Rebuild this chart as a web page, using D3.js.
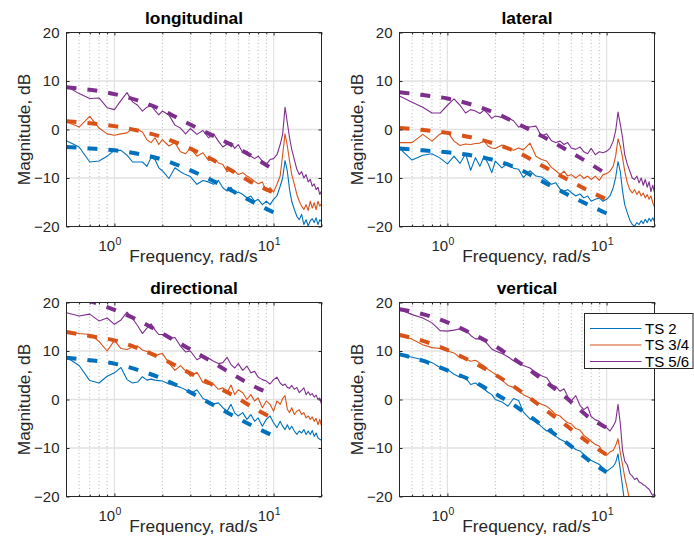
<!DOCTYPE html>
<html>
<head>
<meta charset="utf-8">
<script src="https://cdn.jsdelivr.net/npm/d3@7"></script>
<style>
  html, body { margin: 0; padding: 0; background: #fff; }
  svg { display: block; font-family: "Liberation Sans", Arial, Helvetica, sans-serif; }
</style>
</head>
<body>
<svg id="chart" width="694" height="538"></svg>
<script>
// Frequency grid of the measured responses, rad/s
const freq = [0.5,0.6,0.7,0.8,0.9,1.0,1.1,1.2,1.3,1.4,1.5,1.6,1.7,1.8,1.9,2.0,
  2.2,2.4,2.6,2.8,3.0,3.3,3.6,3.9,4.2,4.5,4.8,5.1,5.4,5.7,6.0,6.4,6.8,7.2,7.6,8.0,8.5,9.0,9.5,10.0,
  10.5,11.0,11.4,11.8,12.2,12.6,13.0,13.5,14.0,14.5,15.0,15.5,16.0,16.5,17.0,17.5,18.0,18.5,19.0,19.5,20.0];

// Frequency points of the fitted model curves, rad/s
const modelFreq = [0.5,0.7,1,1.4,2,2.8,4,5.6,8,10];

const seriesNames = ["TS 2", "TS 3/4", "TS 5/6"];
const seriesColors = ["#0072BD", "#D95319", "#7E2F8E"];
const panelTitles = ["longitudinal", "lateral", "directional", "vertical"];
const yTicks = [-20, -10, 0, 10, 20];
const xMajor = [1, 10];
const xMinor = [0.6,0.7,0.8,0.9,2,3,4,5,6,7,8,9,20];

// longitudinal, measured magnitude (dB)
const lonTS2 = [-2.3,-3.6,-6.7,-6.5,-5.5,-4.3,-4.3,-5.3,-6.7,-6.7,-6.7,-7.6,-5.8,-6.2,-7.9,-8.5,
  -10.1,-7.9,-8.7,-9.3,-9.7,-11.3,-10.5,-10.8,-11.3,-10.5,-12.0,-12.7,-11.9,-13.3,-12.9,-13.4,-14.1,-13.7,-14.8,-14.4,-15.5,-14.8,-15.5,-14.4,
  -13.7,-11.7,-10.0,-6.4,-8.6,-12.4,-14.8,-16.5,-17.9,-18.6,-17.5,-19.6,-18.6,-19.9,-18.8,-18.4,-19.2,-18.2,-19.6,-18.6,-19.0];
const lonTS34 = [1.6,0.5,2.7,0.3,-0.9,-1.2,-0.9,-0.7,0.2,0.0,-0.5,-2.1,-2.7,-1.7,-3.1,-2.1,
  -3.4,-2.7,-4.6,-5.0,-3.9,-5.5,-4.8,-6.4,-6.0,-6.9,-7.2,-8.7,-8.2,-8.6,-9.3,-8.9,-9.6,-10.1,-10.7,-11.2,-10.8,-12.7,-12.0,-12.9,
  -11.3,-9.6,-5.2,-0.9,-3.4,-6.5,-9.3,-11.3,-13.4,-14.8,-15.8,-16.5,-15.5,-16.7,-14.8,-16.2,-15.1,-16.5,-14.8,-15.8,-15.3];
const lonTS56 = [8.9,7.4,6.4,6.5,4.5,4.1,6.0,7.6,5.7,5.0,3.8,4.6,4.9,3.9,3.0,3.8,
  3.0,0.9,0.3,-0.9,0.2,-1.0,-0.2,-1.7,-0.9,-2.4,-3.6,-3.0,-2.7,-3.9,-3.1,-4.8,-4.5,-5.5,-6.0,-5.5,-6.5,-7.2,-6.2,-6.0,
  -5.2,-3.1,-1.0,4.6,1.4,-1.7,-4.1,-6.2,-8.2,-9.3,-8.7,-10.0,-9.3,-10.8,-10.3,-11.7,-11.2,-12.4,-11.9,-13.4,-12.7];

// lateral, measured magnitude (dB)
const latTS2 = [-3.9,-6.3,-5.3,-5.0,-5.9,-7.1,-5.5,-7.0,-5.0,-8.4,-5.8,-7.6,-5.5,-7.0,-8.9,-6.5,
  -7.9,-6.9,-8.0,-8.2,-9.9,-8.5,-9.6,-9.8,-10.5,-11.3,-11.0,-12.3,-12.7,-12.4,-13.0,-13.7,-13.3,-14.1,-13.7,-14.8,-14.4,-14.1,-14.8,-14.4,
  -13.7,-12.0,-9.9,-6.6,-8.7,-12.7,-15.5,-17.2,-18.7,-19.6,-19.9,-19.2,-19.6,-18.8,-19.4,-18.5,-19.2,-18.3,-18.9,-18.2,-19.0];
const latTS34 = [-2.7,-2.7,-1.0,-2.4,-0.9,-0.5,-2.4,-3.3,-3.0,-3.1,-2.9,-2.8,-2.4,-3.4,-3.8,-3.9,
  -3.2,-3.8,-4.3,-3.8,-4.2,-2.8,-5.5,-6.2,-6.5,-7.8,-8.5,-9.3,-8.6,-9.6,-9.3,-10.0,-9.3,-10.1,-9.6,-10.3,-9.6,-10.5,-9.3,-9.1,
  -8.6,-7.6,-5.5,-1.9,-3.5,-5.8,-8.6,-11.0,-12.4,-13.1,-12.4,-13.4,-12.7,-13.7,-13.1,-14.1,-13.4,-14.4,-13.7,-15.1,-16.0];
const latTS56 = [6.9,5.6,4.6,3.4,3.4,5.0,6.3,5.0,3.4,4.1,3.8,3.3,4.0,3.2,2.3,2.8,
  2.5,2.4,1.8,0.5,0.7,0.5,0.7,-1.4,-0.9,-2.3,-2.7,-2.4,-3.1,-2.7,-3.8,-4.1,-3.6,-4.6,-5.0,-3.9,-5.2,-4.6,-4.8,-4.5,
  -3.9,-2.4,-0.3,3.6,1.0,-1.7,-5.2,-7.2,-8.6,-10.0,-10.3,-9.6,-11.0,-10.0,-11.5,-10.3,-11.9,-10.8,-12.8,-11.5,-13.0];

// directional, measured magnitude (dB)
const dirTS2 = [8.7,7.0,3.9,3.4,4.8,5.5,6.6,4.1,3.4,3.6,4.7,4.0,4.2,4.0,3.9,3.8,
  3.2,2.9,2.5,2.0,1.2,2.0,0.2,-0.3,-0.9,-0.7,-1.7,-2.4,-1.0,-2.8,-3.4,-2.7,-4.1,-3.1,-4.5,-3.8,-5.5,-4.1,-3.4,-4.8,
  -5.8,-4.5,-5.5,-6.2,-5.2,-6.2,-5.5,-6.5,-7.2,-6.5,-6.9,-6.2,-7.2,-6.5,-7.2,-6.4,-7.6,-6.9,-7.9,-8.2,-8.4];
const dirTS34 = [14.0,13.6,13.4,12.0,10.0,12.2,10.5,10.3,10.8,11.0,10.2,9.9,9.5,8.9,9.3,9.5,
  7.5,6.0,7.0,5.9,4.8,5.6,3.5,3.1,3.1,2.1,2.4,1.4,3.0,1.0,2.0,1.4,0.0,1.0,-0.3,0.3,-1.7,-0.3,-1.0,-2.4,
  -0.3,-1.0,0.2,0.8,-2.0,-2.7,-1.7,-3.1,-2.4,-2.1,-3.1,-2.7,-3.8,-3.4,-4.1,-3.6,-4.5,-3.9,-5.2,-4.1,-5.5];
const dirTS56 = [17.9,17.2,17.6,16.2,16.8,15.5,16.4,18.0,16.7,15.2,13.6,14.7,15.6,14.3,13.4,13.4,
  12.5,12.8,11.0,9.8,10.0,8.2,8.9,8.5,7.9,7.4,7.6,8.7,7.2,6.5,7.4,6.0,6.9,5.5,5.8,4.6,4.1,3.8,3.2,4.1,
  4.6,3.4,2.9,3.2,2.5,2.3,2.9,2.1,2.5,1.4,1.9,2.4,1.0,1.6,0.9,1.2,0.5,0.9,0.0,0.3,-1.0];

// vertical, measured magnitude (dB); null where the response runs below the plotted range
const verTS2 = [9.3,8.7,8.2,7.6,6.6,6.2,5.2,4.6,4.5,3.1,3.4,2.7,2.1,1.5,1.0,0.0,
  -0.5,-1.4,0.2,-0.2,-2.6,-4.0,-4.5,-5.6,-6.5,-6.0,-7.6,-8.2,-8.6,-9.0,-9.6,-10.3,-10.6,-11.3,-12.0,-12.6,-13.0,-13.4,-14.1,-14.8,
  -14.3,-13.8,-13.0,-11.2,-14.5,-18.0,-21.5,null,null,null,null,null,null,null,null,null,null,null,null,null,null];
const verTS34 = [13.5,12.4,11.3,10.7,10.5,10.0,9.6,8.6,8.4,7.9,8.1,7.5,6.9,6.2,5.7,5.2,
  4.0,2.9,2.5,1.8,1.0,0.3,-0.5,-1.0,-1.4,-2.2,-3.1,-3.4,-4.2,-4.8,-5.0,-6.0,-6.3,-7.4,-8.0,-8.6,-9.3,-9.6,-11.0,-11.5,
  -10.8,-10.5,-9.5,-8.1,-11.0,-13.5,-16.0,-18.5,-21.0,null,null,null,null,null,null,null,null,null,null,null,null];
const verTS56 = [18.6,17.5,16.8,15.8,14.2,14.1,14.3,14.6,14.3,13.2,12.5,12.5,12.2,11.3,10.4,10.0,
  9.5,8.8,8.0,7.4,7.0,6.5,5.6,4.9,4.5,3.1,2.7,1.7,2.2,0.6,-0.3,0.8,-1.2,-2.1,-1.5,-3.5,-4.2,-4.5,-5.2,-5.8,
  -6.5,-5.5,-4.5,-1.0,-5.0,-10.5,-12.7,-13.5,-15.3,-15.8,-16.5,-16.2,-17.0,-17.2,-17.6,-17.8,-18.2,-18.5,-19.2,-19.8,-19.4];

// fitted models (dB) at modelFreq
const lonModel2  = [-3.6,-3.9,-4.3,-5.0,-6.2,-8.0,-10.3,-12.8,-15.5,-17.1];
const lonModel34 = [1.7,1.3,0.7,-0.2,-1.6,-3.5,-6.0,-8.7,-11.6,-13.0];
const lonModel56 = [8.7,8.2,7.3,6.0,4.0,1.5,-1.0,-3.4,-6.3,-8.3];
const latModel2  = [-3.9,-4.3,-4.7,-5.3,-6.4,-8.1,-10.8,-13.3,-15.8,-17.3];
const latModel34 = [0.3,-0.1,-0.7,-1.6,-3.0,-4.8,-7.6,-10.2,-12.9,-14.4];
const latModel56 = [7.7,7.1,6.4,5.2,3.4,1.1,-1.5,-4.2,-7.2,-9.2];
const dirModel2  = [8.6,8.1,7.4,6.1,4.3,2.0,-0.8,-3.4,-6.0,-7.5];
const dirModel34 = [13.9,13.1,12.2,10.6,8.4,5.9,3.3,0.8,-2.3,-3.9];
const dirModel56 = [21.7,20.3,18.5,16.4,13.6,10.9,8.0,5.1,2.3,1.0];
const verModel2  = [9.3,8.0,6.0,4.0,1.2,-1.8,-5.5,-8.9,-12.9,-15.0];
const verModel34 = [13.3,12.1,10.2,7.9,5.1,2.0,-1.8,-5.4,-9.3,-11.4];
const verModel56 = [18.6,17.6,15.9,13.7,11.0,7.7,4.0,0.3,-4.0,-5.8];

const measured = [
  [lonTS2, lonTS34, lonTS56],
  [latTS2, latTS34, latTS56],
  [dirTS2, dirTS34, dirTS56],
  [verTS2, verTS34, verTS56]
];
const models = [
  [lonModel2, lonModel34, lonModel56],
  [latModel2, latModel34, latModel56],
  [dirModel2, dirModel34, dirModel56],
  [verModel2, verModel34, verModel56]
];

// ---- layout ----
const W = 255, H = 194;
const origins = [[66.5, 32.5], [399.5, 32.5], [66.5, 302.5], [399.5, 302.5]];
const axisColor = "#262626";
const tickFont = 15, labelFont = 17.3;

const svg = d3.select("#chart");
const x = d3.scaleLog().domain([0.5, 20]).range([0, W]);
const y = d3.scaleLinear().domain([-20, 20]).range([H, 0]);

const lineMeasured = d3.line()
  .defined(d => d[1] !== null)
  .x(d => x(d[0])).y(d => y(d[1]));
const lineModel = d3.line()
  .x(d => x(d[0])).y(d => y(d[1]))
  .curve(d3.curveMonotoneX);

panelTitles.forEach((title, p) => {
  const [ox, oy] = origins[p];
  const g = svg.append("g").attr("transform", `translate(${ox},${oy})`);

  g.append("rect").attr("width", W).attr("height", H).attr("fill", "#fff");

  const clipId = "clip" + p;
  g.append("clipPath").attr("id", clipId)
    .append("rect").attr("width", W).attr("height", H);

  // grid
  const grid = g.append("g");
  grid.selectAll(".minor").data(xMinor.filter(v => v < 20)).join("line")
    .attr("x1", d => x(d)).attr("x2", d => x(d))
    .attr("y1", 0).attr("y2", H)
    .attr("stroke", "#b8b8b8").attr("stroke-width", 1)
    .attr("stroke-dasharray", "1,2.5");
  grid.selectAll(".hmaj").data(yTicks.filter(v => v > -20 && v < 20)).join("line")
    .attr("x1", 0).attr("x2", W)
    .attr("y1", d => y(d)).attr("y2", d => y(d))
    .attr("stroke", "#e2e2e2").attr("stroke-width", 1.3);
  grid.selectAll(".vmaj").data(xMajor).join("line")
    .attr("x1", d => x(d)).attr("x2", d => x(d))
    .attr("y1", 0).attr("y2", H)
    .attr("stroke", "#e2e2e2").attr("stroke-width", 1.3);

  // data
  const plot = g.append("g").attr("clip-path", `url(#${clipId})`);
  measured[p].forEach((vals, s) => {
    plot.append("path")
      .datum(freq.map((f, i) => [f, vals[i]]))
      .attr("d", lineMeasured)
      .attr("fill", "none")
      .attr("stroke", seriesColors[s])
      .attr("stroke-width", 1.1)
      .attr("stroke-linejoin", "round");
  });
  models[p].forEach((vals, s) => {
    plot.append("path")
      .datum(modelFreq.map((f, i) => [f, vals[i]]))
      .attr("d", lineModel)
      .attr("fill", "none")
      .attr("stroke", seriesColors[s])
      .attr("stroke-width", 4)
      .attr("stroke-dasharray", "10,11");
  });

  // axes: ticks pointing inward on all four sides
  const styleAxis = sel => {
    sel.select(".domain").remove();
    sel.selectAll(".tick line").attr("stroke", axisColor);
    sel.selectAll("text").attr("fill", axisColor).attr("font-size", tickFont)
      .attr("font-family", "Liberation Sans, Arial, sans-serif");
  };
  g.append("g").call(d3.axisLeft(y).tickValues(yTicks).tickSize(-3).tickPadding(7))
    .call(styleAxis);
  g.append("g").attr("transform", `translate(${W},0)`)
    .call(d3.axisRight(y).tickValues(yTicks).tickSize(-3).tickFormat(""))
    .call(styleAxis);
  g.append("g").attr("transform", `translate(0,${H})`)
    .call(d3.axisBottom(x).tickValues(xMajor).tickSize(-3).tickFormat(""))
    .call(styleAxis);
  g.append("g").attr("transform", `translate(0,${H})`)
    .call(d3.axisBottom(x).tickValues(xMinor).tickSize(-2).tickFormat(""))
    .call(styleAxis);
  g.append("g")
    .call(d3.axisTop(x).tickValues(xMajor).tickSize(-3).tickFormat(""))
    .call(styleAxis);
  g.append("g")
    .call(d3.axisTop(x).tickValues(xMinor).tickSize(-2).tickFormat(""))
    .call(styleAxis);

  // power-of-ten tick labels
  xMajor.forEach(v => {
    const tx = x(v);
    g.append("text").attr("x", tx + 0.8).attr("y", H + 24.8)
      .attr("text-anchor", "end").attr("font-size", tickFont).attr("fill", axisColor)
      .text("10");
    g.append("text").attr("x", tx + 1.2).attr("y", H + 18.2)
      .attr("text-anchor", "start").attr("font-size", 10.5).attr("fill", axisColor)
      .text(String(Math.round(Math.log10(v))));
  });

  // box
  g.append("rect").attr("width", W).attr("height", H)
    .attr("fill", "none").attr("stroke", axisColor).attr("stroke-width", 1);

  // title and labels
  g.append("text").attr("x", W / 2).attr("y", -8.5)
    .attr("text-anchor", "middle").attr("font-weight", "bold")
    .attr("font-size", labelFont).attr("fill", "#000").text(title);
  g.append("text").attr("x", W / 2 - 0.6).attr("y", H + 35.5)
    .attr("text-anchor", "middle").attr("font-size", labelFont).attr("fill", axisColor)
    .text("Frequency, rad/s");
  g.append("text")
    .attr("transform", `translate(-36.2,${H / 2}) rotate(-90)`)
    .attr("text-anchor", "middle").attr("font-size", labelFont).attr("fill", axisColor)
    .text("Magnitude, dB");
});

// legend in the vertical panel
const leg = svg.append("g").attr("transform", "translate(584.5,313.5)");
leg.append("rect").attr("width", 108.5).attr("height", 55)
  .attr("fill", "#fff").attr("stroke", axisColor).attr("stroke-width", 1);
seriesNames.forEach((name, i) => {
  const ly = 15 + i * 16.5;
  leg.append("line").attr("x1", 5.5).attr("x2", 57).attr("y1", ly).attr("y2", ly)
    .attr("stroke", seriesColors[i]).attr("stroke-width", 1.1);
  leg.append("text").attr("x", 60.5).attr("y", ly).attr("dy", "0.35em")
    .attr("font-size", tickFont).attr("fill", "#000").text(name);
});
</script>
</body>
</html>
